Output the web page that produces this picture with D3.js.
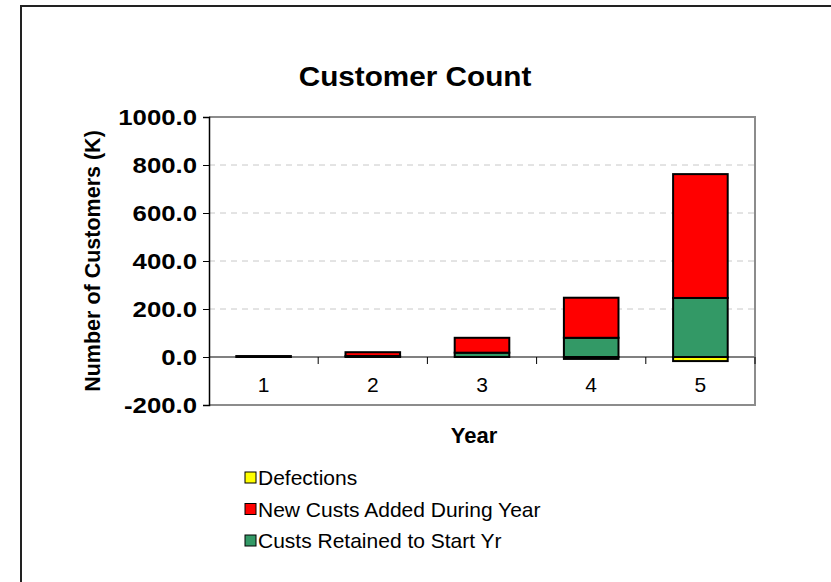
<!DOCTYPE html>
<html>
<head>
<meta charset="utf-8">
<script src="https://cdn.jsdelivr.net/npm/d3@7"></script>
<style>
  html, body { margin: 0; padding: 0; background: #fff; }
  svg { display: block; font-family: Arial, "Liberation Sans", sans-serif; }
</style>
</head>
<body>
<svg id="chart" width="831" height="582"></svg>
<script>
// Customer counts (thousands) per year
const years = ["1", "2", "3", "4", "5"];
const defections = [0, 0, 0, -8, -17];
const newCusts = [4, 16, 62, 167, 516];
const retained = [0, 4, 18, 80, 246];
const yTicks = [-200, 0, 200, 400, 600, 800, 1000];

const seriesNames = ["Defections", "New Custs Added During Year", "Custs Retained to Start Yr"];
const seriesColors = ["#ffff00", "#ff0000", "#339966"];

const svg = d3.select("#chart");

// outer frame
svg.append("path")
  .attr("d", "M21,600 L21,6 L840,6")
  .attr("fill", "none").attr("stroke", "#222").attr("stroke-width", 2);

const plot = { left: 209, right: 755, top: 117, bottom: 405 };

const x = d3.scaleBand().domain(years).range([plot.left, plot.right]).paddingInner(0.5).paddingOuter(0.25);
const xb = d3.scaleBand().domain(years).range([plot.left, plot.right]);
const y = d3.scaleLinear().domain([-200, 1000]).range([plot.bottom, plot.top]);

// gridlines
svg.append("g").selectAll("line")
  .data(yTicks.filter(v => v > 0 && v < 1000))
  .join("line")
  .attr("x1", plot.left).attr("x2", plot.right)
  .attr("y1", d => y(d)).attr("y2", d => y(d))
  .attr("stroke", "#c8c8c8").attr("stroke-width", 1)
  .attr("stroke-dasharray", "6,5");

// plot area border (top, right, bottom)
svg.append("path")
  .attr("d", `M${plot.left},${plot.top} L${plot.right},${plot.top} L${plot.right},${plot.bottom} L${plot.left},${plot.bottom}`)
  .attr("fill", "none").attr("stroke", "#8c8c8c").attr("stroke-width", 2);

// category axis line at zero (under the bars)
svg.append("line")
  .attr("x1", plot.left).attr("x2", plot.right)
  .attr("y1", y(0)).attr("y2", y(0))
  .attr("stroke", "#808080").attr("stroke-width", 2);

// stacked segments: green from 0, red on top, yellow below 0
const rows = years.map((yr, i) => ({
  yr,
  segs: [
    { k: 0, y0: defections[i], y1: 0 },
    { k: 2, y0: 0, y1: retained[i] },
    { k: 1, y0: retained[i], y1: retained[i] + newCusts[i] }
  ]
}));

const barG = svg.append("g");
rows.forEach(r => {
  barG.selectAll(null)
    .data(r.segs.filter(s => s.y0 !== s.y1))
    .join("rect")
    .attr("x", x(r.yr))
    .attr("width", x.bandwidth())
    .attr("y", s => y(Math.max(s.y0, s.y1)))
    .attr("height", s => Math.abs(y(s.y0) - y(s.y1)))
    .attr("fill", s => seriesColors[s.k])
    .attr("stroke", "#000").attr("stroke-width", 2);
});

// category tick marks and labels
svg.append("g").selectAll("line")
  .data(years.slice(1))
  .join("line")
  .attr("x1", d => xb(d)).attr("x2", d => xb(d))
  .attr("y1", y(0)).attr("y2", y(0) + 7)
  .attr("stroke", "#000").attr("stroke-width", 1);
svg.append("line")
  .attr("x1", plot.right).attr("x2", plot.right)
  .attr("y1", y(0)).attr("y2", y(0) + 7)
  .attr("stroke", "#000").attr("stroke-width", 1);

svg.append("g").selectAll("text")
  .data(years)
  .join("text")
  .attr("x", d => xb(d) + xb.bandwidth() / 2)
  .attr("y", 392)
  .attr("text-anchor", "middle")
  .attr("font-size", 21)
  .text(d => d);

// value axis
const stretch = 1.17;
const fmt = d3.format(".1f");
const yAxis = d3.axisLeft(y).tickValues(yTicks).tickSize(6).tickPadding(7)
  .tickFormat(d => fmt(d).replace("\u2212", "-"));
const ya = svg.append("g").attr("transform", `translate(${plot.left},0)`).call(yAxis);
ya.select(".domain").attr("stroke", "#000").attr("stroke-width", 1.5);
ya.selectAll(".tick line").attr("stroke", "#000");
ya.selectAll(".tick text")
  .attr("x", -12 / stretch)
  .attr("dy", "0.36em")
  .attr("transform", `scale(${stretch},1)`)
  .attr("font-size", 22).attr("font-weight", "bold")
  .attr("font-family", "Arial, 'Liberation Sans', sans-serif")
  .attr("fill", "#000");

// titles
svg.append("text")
  .attr("transform", "translate(415,86) scale(1.1,1)")
  .attr("text-anchor", "middle")
  .attr("font-size", 27).attr("font-weight", "bold")
  .text("Customer Count");

svg.append("text")
  .attr("transform", `translate(100,${(plot.top + plot.bottom) / 2}) rotate(-90)`)
  .attr("text-anchor", "middle")
  .attr("font-size", 21.5).attr("font-weight", "bold")
  .text("Number of Customers (K)");

svg.append("text")
  .attr("x", 474).attr("y", 443)
  .attr("text-anchor", "middle")
  .attr("font-size", 22).attr("font-weight", "bold")
  .text("Year");

// legend
const legend = svg.append("g").attr("transform", "translate(245,472)");
const li = legend.selectAll("g")
  .data(seriesNames)
  .join("g")
  .attr("transform", (d, i) => `translate(0,${i * 31.5})`);
li.append("rect")
  .attr("x", 0).attr("y", 0)
  .attr("width", 11).attr("height", 11)
  .attr("fill", (d, i) => seriesColors[i])
  .attr("stroke", "#000").attr("stroke-width", 1);
li.append("text")
  .attr("x", 13).attr("y", 13)
  .attr("font-size", 21)
  .text(d => d);
</script>
</body>
</html>
